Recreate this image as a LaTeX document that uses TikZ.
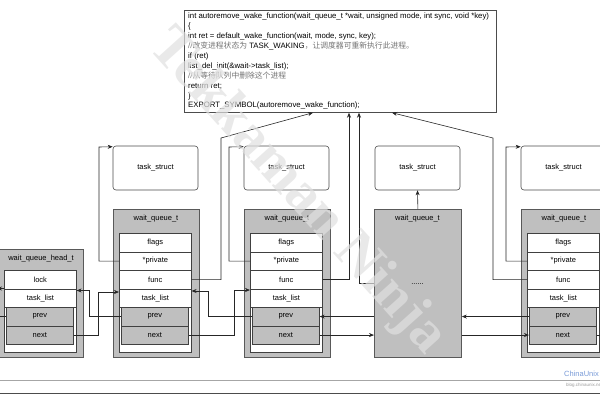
\documentclass[tikz,border=0pt]{standalone}
\usepackage{fontspec}
\setmainfont{Liberation Sans}
\newfontfamily\cjk{Noto Sans CJK SC}
\newfontfamily\wmfont{Liberation Serif}
\usetikzlibrary{calc,arrows.meta}
\def\lblfont{\fontsize{7.5}{9}\selectfont}
\def\codefont{\fontsize{7.8}{9.9}\selectfont}
\def\waitqueue#1#2{%
  \node[outerbox, minimum width=86pt, minimum height=148pt] (#1) at (#2,209) {};
  \node[font=\lblfont] (#1-ti) at (#2+43,219) {wait\_queue\_t};
  \node[fieldrow, minimum height=119pt] (#1-in) at (#2+6,233) {};
  \node[fieldrow] (#1-fl) at (#2+6,233) {flags};
  \node[fieldrow] (#1-pr) at (#2+6,251.5) {*private};
  \node[fieldrow] (#1-fn) at (#2+6,270) {func};
  \node[fieldrow] (#1-tl) at (#2+6,288.5) {task\_list};
  \node[ptrrow] (#1-pv) at (#2+8,307) {prev};
  \node[ptrrow] (#1-nx) at (#2+8,325.5) {next};
}

\begin{document}
\begin{tikzpicture}[x=1pt, y=-1pt,
  outerbox/.style={draw=black!65, fill=black!25, line width=0.8pt, anchor=north west, inner sep=0pt},
  fieldrow/.style={draw=black!75, fill=white, line width=0.6pt, minimum width=72pt, minimum height=18.5pt, anchor=north west, inner sep=0pt, font=\lblfont},
  ptrrow/.style={fieldrow, fill=black!25, minimum width=67pt},
  taskbox/.style={draw=black!70, fill=white, line width=0.6pt, rounded corners=3pt, minimum width=85pt, minimum height=44pt, font=\lblfont},
  link/.style={draw=black!85, line width=0.6pt, -{Stealth[length=5pt,width=4pt]}},
  plain/.style={draw=black!85, line width=0.6pt}]
			%%%%% START %%%%%
			\useasboundingbox (0,0) rectangle (600,400);
			\clip (0,0) rectangle (600,400);
			
			% code box
			\node[draw=black!70, line width=0.7pt, minimum width=312pt, minimum height=102pt, anchor=north west] (code) at (184,10) {};
			\node[anchor=north west, align=left, inner sep=0pt, font=\codefont] (codetxt) at (188,13) {%
				int autoremove\_wake\_function(wait\_queue\_t *wait, unsigned mode, int sync, void *key)\\
				\{\\
				int ret = default\_wake\_function(wait, mode, sync, key);\\
				{\color{black!55}//\cjk 改变进程状态为} TASK\_WAKING{\color{black!55}\cjk ，让调度器可重新执行此进程。}\\
				if (ret)\\
				list\_del\_init(\&wait->task\_list);\\
				{\color{black!55}//\cjk 从等待队列中删除这个进程}\\
				return ret;\\
				\}\\
				EXPORT\_SYMBOL(autoremove\_wake\_function);};
			
			% task_struct
			\node[taskbox] (ts1) at (155.5,168) {task\_struct};
			\node[taskbox] (ts2) at (286.5,168) {task\_struct};
			\node[taskbox] (ts3) at (417.5,168) {task\_struct};
			\node[taskbox] (ts4) at (563.5,168) {task\_struct};
			
			% wait_queue_head_t
			\node[outerbox, minimum width=84pt, minimum height=108pt] (hd) at (-1,249) {};
			\node[font=\lblfont] (hd-ti) at (41,258.5) {wait\_queue\_head\_t};
			\node[fieldrow, minimum height=82pt] (hd-in) at (4,270) {};
			\node[fieldrow] (hd-lk) at (4,270) {lock};
			\node[fieldrow] (hd-tl) at (4,288.5) {task\_list};
			\node[ptrrow] (hd-pv) at (6,307) {prev};
			\node[ptrrow] (hd-nx) at (6,325.5) {next};
			
			% wait_queue_t
			\waitqueue{wq1}{113}
			\waitqueue{wq2}{244}
			\waitqueue{wq4}{521}
			
			\node[outerbox, minimum width=87pt, minimum height=148pt] (wq3) at (374,209) {};
			\node[font=\lblfont] (wq3-ti) at (417.5,219) {wait\_queue\_t};
			\node[font=\lblfont] (wq3-dt) at (417.5,284) {......};
			
			% list links
			\draw[link] (hd-tl.north west) -- ++(-7,0);
			\draw[plain] (hd-pv.west) -- ++(-8,0);
			\draw[link] (hd-nx.east) -| (98,292) -- ($(wq1-tl.north west)+(0,3.5)$);
			\draw[link] (wq1-pv.west) -| (89,290.5) -- ($(hd-tl.north east)+(0,2)$);
			\draw[link] (wq1-nx.east) -| (234,290) -- ($(wq2-tl.north west)+(0,1.5)$);
			\draw[link] (wq2-pv.west) -| (208,291) -- ($(wq1-tl.north east)+(0,2.5)$);
			\draw[link] (wq2-nx.east) -- (wq3.west |- wq2-nx.east);
			\draw[link] (wq3.west |- wq2-pv.east) -- (wq2-pv.east);
			\draw[link] (wq4-pv.west) -- (wq3.east |- wq4-pv.west);
			\draw[link] (wq3.east |- wq4-nx.west) -- (wq4-nx.west);
			\draw[plain] (wq4-nx.east) -- ++(10,0);
			
			% private -> task_struct
			\draw[link] (wq1-pr.west) -| (99,147) -- ($(ts1.north west)+(0,1)$);
			\draw[link] (wq2-pr.west) -| (229,147) -- ($(ts2.north west)+(0,1)$);
			\draw[link] (wq4-pr.west) -| (506,147) -- ($(ts4.north west)+(0,1)$);
			\draw[link] (wq3.north) -- (ts3.south);
			
			% func -> code
			\draw[link] (wq1-fn.east) -| (221,138) -- ($(code.south west)+(129,0)$);
			\draw[link] (wq2-fn.east) -| ($(code.south west)+(165,0)$);
			\draw[link] (wq3.west) -| ($(code.south west)+(175,0)$);
			\draw[link] (wq4-fn.west) -| (493,138) -- ($(code.south west)+(208,0)$);
			
			% bottom rules and marks
			\draw[black!35, line width=1.6pt] (0,380.5) -- (600,380.5);
			\draw[black!70, line width=0.6pt] (0,393) -- (600,393);
			\node[anchor=west, inner sep=0pt, font=\fontsize{7.5}{8}\selectfont, text=cyan!45!blue!55] (cu) at (564,373.5) {ChinaUnix};
			\node[anchor=west, inner sep=0pt, font=\fontsize{4.5}{5}\selectfont, text=black!40] (cu-bl) at (566,385.5) {blog.chinaunix.net};
			
			\node[rotate=-48, text=black!12, opacity=0.7, font=\wmfont\bfseries\fontsize{58}{58}\selectfont] (wm) at (297,192) {Tekkaman Ninja};
			%%%%% END %%%%%
\end{tikzpicture}
\end{document}
